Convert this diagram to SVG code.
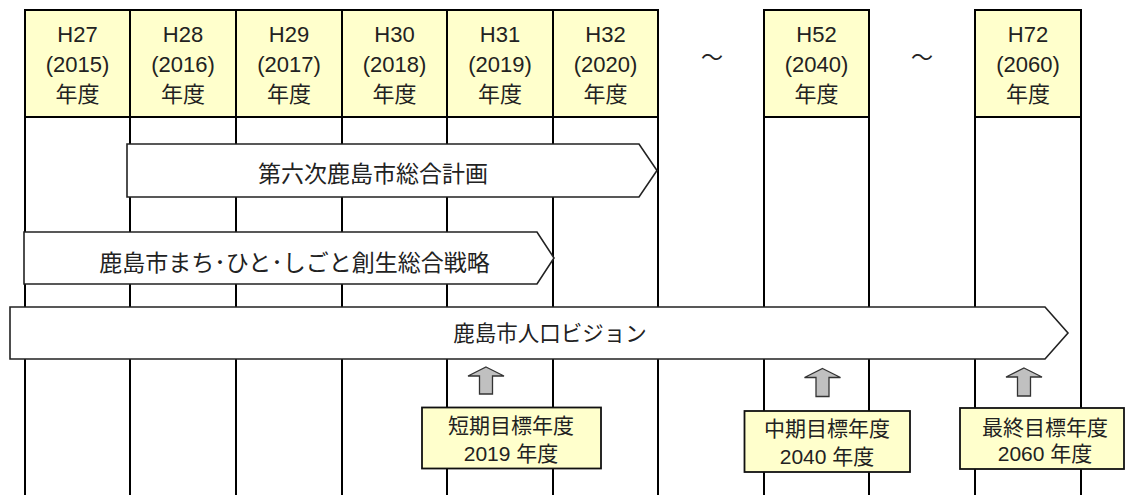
<svg xmlns="http://www.w3.org/2000/svg" width="1126" height="495" viewBox="0 0 1126 495">
<style>
.hdr{fill:#ffffcc;stroke:#000;stroke-width:2}
.grid{stroke:#000;stroke-width:2;fill:none}
.bar{fill:#fff;stroke:#222;stroke-width:1.6}
.up{fill:#c0c0c0;stroke:#333;stroke-width:1.3}
.lbl{fill:#ffffcc;stroke:#111;stroke-width:1.8}
text{font-family:"Liberation Sans","Noto Sans CJK JP",sans-serif;fill:#222;text-anchor:middle}
.h{font-size:22px}
</style>
<rect width="1126" height="495" fill="#fff"/>
<g id="grid" class="grid">
<path d="M25 10V495M130 10V495M236 10V495M342 10V495M447 10V495M553 10V495M658 10V495M764 10V495M869 10V495M975 10V495M1081 10V495"/>
</g>
<g id="header">
<g id="h27"><rect class="hdr" x="25" y="10" width="105" height="107"/><text class="h" x="77.5" y="41.5">H27</text><text class="h" x="77.5" y="71.5">(2015)</text><text class="h" x="77.5" y="101.5">年度</text></g>
<g id="h28"><rect class="hdr" x="130" y="10" width="106" height="107"/><text class="h" x="183" y="41.5">H28</text><text class="h" x="183" y="71.5">(2016)</text><text class="h" x="183" y="101.5">年度</text></g>
<g id="h29"><rect class="hdr" x="236" y="10" width="106" height="107"/><text class="h" x="289" y="41.5">H29</text><text class="h" x="289" y="71.5">(2017)</text><text class="h" x="289" y="101.5">年度</text></g>
<g id="h30"><rect class="hdr" x="342" y="10" width="105" height="107"/><text class="h" x="394.5" y="41.5">H30</text><text class="h" x="394.5" y="71.5">(2018)</text><text class="h" x="394.5" y="101.5">年度</text></g>
<g id="h31"><rect class="hdr" x="447" y="10" width="106" height="107"/><text class="h" x="500" y="41.5">H31</text><text class="h" x="500" y="71.5">(2019)</text><text class="h" x="500" y="101.5">年度</text></g>
<g id="h32"><rect class="hdr" x="553" y="10" width="105" height="107"/><text class="h" x="605.5" y="41.5">H32</text><text class="h" x="605.5" y="71.5">(2020)</text><text class="h" x="605.5" y="101.5">年度</text></g>
<g id="tilde1"><text class="h" x="712" y="65">～</text></g>
<g id="h52"><rect class="hdr" x="764" y="10" width="105" height="107"/><text class="h" x="816.5" y="41.5">H52</text><text class="h" x="816.5" y="71.5">(2040)</text><text class="h" x="816.5" y="101.5">年度</text></g>
<g id="tilde2"><text class="h" x="922" y="65">～</text></g>
<g id="h72"><rect class="hdr" x="975" y="10" width="106" height="107"/><text class="h" x="1028" y="41.5">H72</text><text class="h" x="1028" y="71.5">(2060)</text><text class="h" x="1028" y="101.5">年度</text></g>
</g>
<g id="plan6">
<polygon class="bar" points="127,144 639,144 657,170.5 639,197 127,197"/>
<text x="373" y="181.5" style="font-size:23px">第六次鹿島市総合計画</text>
</g>
<g id="strategy">
<polygon class="bar" points="24,232 537,232 554,258 537,284 24,284"/>
<text x="294.5" y="270.5" style="font-size:23px">鹿島市まち･ひと･しごと創生総合戦略</text>
</g>
<g id="vision">
<polygon class="bar" points="10,307 1045,307 1068,333 1045,359 10,359"/>
<text x="550" y="341" style="font-size:21.5px">鹿島市人口ビジョン</text>
</g>
<g id="connectors">
<polygon class="up" points="486,367 504,376 492.5,376 492.5,394 479.5,394 479.5,376 468,376"/>
<polygon class="up" points="822.5,368.5 840.5,377.5 829,377.5 829,396.5 816,396.5 816,377.5 804.5,377.5"/>
<polygon class="up" points="1024,368 1042,377 1030.5,377 1030.5,396 1017.5,396 1017.5,377 1006,377"/>
</g>
<g id="short">
<rect class="lbl" x="422" y="407.5" width="179" height="61"/>
<text x="511" y="433" style="font-size:21px">短期目標年度</text>
<text x="511" y="461" style="font-size:21px">2019 年度</text>
</g>
<g id="mid">
<rect class="lbl" x="744.5" y="411" width="165.5" height="61"/>
<text x="827" y="436" style="font-size:21px">中期目標年度</text>
<text x="827" y="463.5" style="font-size:21px">2040 年度</text>
</g>
<g id="final">
<rect class="lbl" x="960" y="408" width="164" height="61"/>
<text x="1045" y="434.5" style="font-size:21px">最終目標年度</text>
<text x="1045" y="461" style="font-size:21px">2060 年度</text>
</g>
</svg>
